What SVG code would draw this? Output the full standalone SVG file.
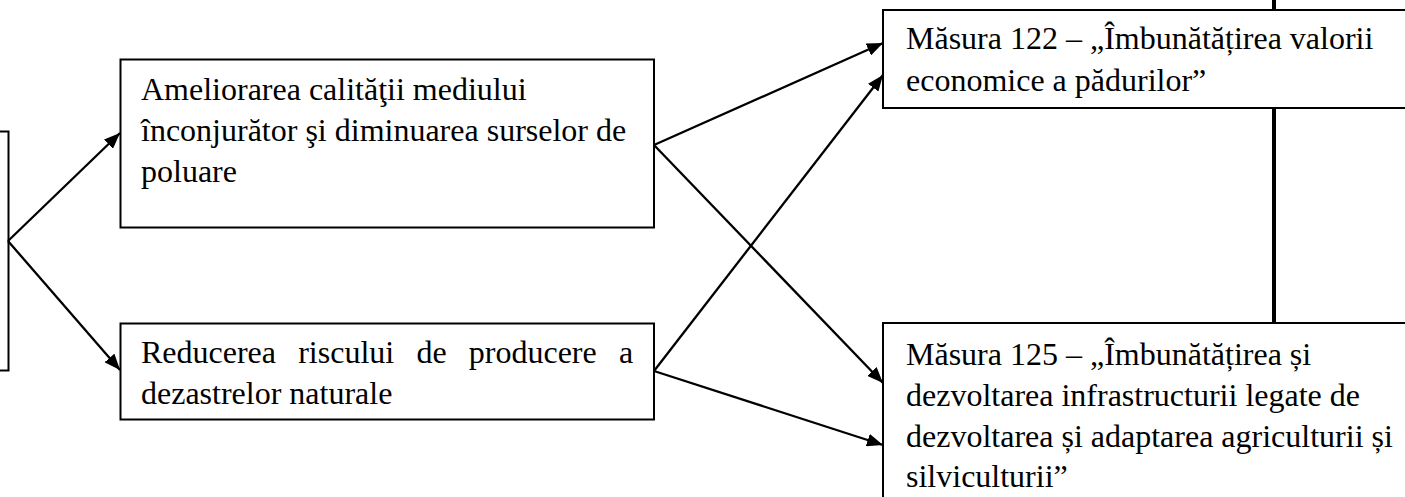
<svg xmlns="http://www.w3.org/2000/svg" width="1405" height="497" viewBox="0 0 1405 497">
<style>
.box{fill:#fff;stroke:#000;stroke-width:2}
.t{font-family:"Liberation Serif","Times New Roman",serif;font-size:32px;fill:#000}
.c{stroke:#000;stroke-width:2.3;fill:none}
.thick{stroke:#000;stroke-width:4;fill:none}
</style>
<defs>
<marker id="ah" markerUnits="userSpaceOnUse" markerWidth="17" markerHeight="13" refX="16" refY="6.5" orient="auto">
<path d="M0,0 L16,6.5 L0,13 Z" fill="#000"/>
</marker>
</defs>
<g id="node-left"><rect class="box" x="-10" y="131.5" width="18.5" height="239"/></g>
<g id="node-ameliorarea">
<rect class="box" x="120.5" y="59.5" width="533.5" height="168"/>
<text class="t" x="141" y="100">Ameliorarea calităţii mediului</text>
<text class="t" x="141" y="141">înconjurător şi diminuarea surselor de</text>
<text class="t" x="141" y="182">poluare</text>
</g>
<g id="node-reducerea">
<rect class="box" x="120.5" y="323.5" width="533.5" height="96"/>
<text class="t" x="141" y="363" word-spacing="14.2">Reducerea riscului de producere a</text>
<text class="t" x="141" y="404">dezastrelor naturale</text>
</g>
<g id="node-m122">
<rect class="box" x="883" y="10" width="600" height="98"/>
<text class="t" x="906" y="49">Măsura 122 – „Îmbunătățirea valorii</text>
<text class="t" x="906" y="91">economice a pădurilor”</text>
</g>
<g id="node-m125">
<rect class="box" x="883" y="323" width="600" height="200"/>
<text class="t" x="906" y="365">Măsura 125 – „Îmbunătățirea și</text>
<text class="t" x="906" y="406">dezvoltarea infrastructurii legate de</text>
<text class="t" x="906" y="447">dezvoltarea și adaptarea agriculturii și</text>
<text class="t" x="906" y="487">silviculturii”</text>
</g>
<g id="connectors">
<line class="c" x1="8" y1="241" x2="120" y2="133" marker-end="url(#ah)"/>
<line class="c" x1="8" y1="241" x2="120" y2="370" marker-end="url(#ah)"/>
<line class="c" x1="654" y1="145" x2="883" y2="43" marker-end="url(#ah)"/>
<line class="c" x1="654" y1="145" x2="883" y2="383" marker-end="url(#ah)"/>
<line class="c" x1="654" y1="371" x2="883" y2="75" marker-end="url(#ah)"/>
<line class="c" x1="654" y1="371" x2="883" y2="445" marker-end="url(#ah)"/>
<line class="thick" x1="1274" y1="0" x2="1274" y2="10"/>
<line class="thick" x1="1274" y1="108" x2="1274" y2="323"/>
</g>
</svg>
